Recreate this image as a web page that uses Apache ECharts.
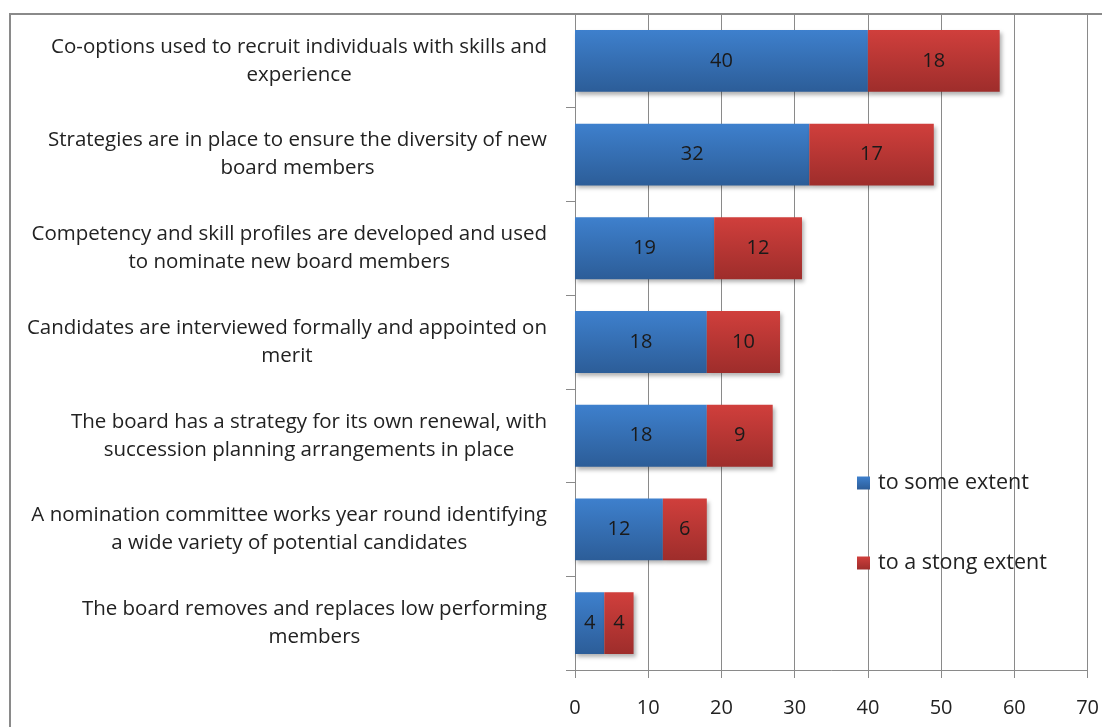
<!DOCTYPE html>
<html>
<head>
<meta charset="utf-8">
<script src="https://cdn.jsdelivr.net/npm/echarts@6/dist/echarts.min.js"></script>
<style>
  html, body { margin: 0; padding: 0; background: #fff; }
  #chart { width: 1102px; height: 727px; }
</style>
</head>
<body>
<div id="chart"></div>
<script>
var categories = [
    'Co-options used to recruit individuals with skills and\nexperience',
    'Strategies are in place to ensure the diversity of new\nboard members',
    'Competency and skill profiles are developed and used\nto nominate new board members',
    'Candidates are interviewed formally and appointed on\nmerit',
    'The board has a strategy for its own renewal, with\nsuccession planning arrangements in place',
    'A nomination committee works year round identifying\na wide variety of potential candidates',
    'The board removes and replaces low performing\nmembers'
];
var someExtent = [40, 32, 19, 18, 18, 12, 4];
var strongExtent = [18, 17, 12, 10, 9, 6, 4];
var xTicks = [0, 10, 20, 30, 40, 50, 60, 70];

var dom = document.getElementById("chart");
var myChart = echarts.init(dom);
var FONT = 'Open Sans';

function grad(top, bottom) {
    return new echarts.graphic.LinearGradient(0, 0, 0, 1, [
        { offset: 0, color: top },
        { offset: 1, color: bottom }
    ]);
}

var barLabel = {
    show: true,
    position: 'inside',
    color: '#1a1a1a',
    fontFamily: FONT,
    fontSize: 20
};

option = {
    animation: false,
    backgroundColor: '#fff',
    graphic: [{
        type: 'rect',
        shape: { x: 10, y: 14, width: 1200, height: 800 },
        style: { fill: null, stroke: '#8a8a8a', lineWidth: 2 },
        z: -1
    }],
    legend: {
        orient: 'vertical',
        left: 852,
        top: 466,
        itemWidth: 13,
        itemHeight: 13,
        itemGap: 56,
        icon: 'rect',
        textStyle: {
            fontFamily: FONT,
            fontSize: 21.5,
            color: '#222',
            lineHeight: 24,
            padding: [0, 0, 0, 3]
        },
        data: ['to some extent', 'to a stong extent']
    },
    grid: {
        left: 575,
        right: 14,
        top: 14,
        bottom: 57,
        containLabel: false
    },
    xAxis: {
        type: 'value',
        min: 0,
        max: 70,
        interval: 10,
        axisLine: { show: true, lineStyle: { color: '#8a8a8a', width: 1 } },
        axisTick: { show: true, length: 8, lineStyle: { color: '#8a8a8a' } },
        axisLabel: {
            margin: 28,
            color: '#222',
            fontFamily: FONT,
            fontSize: 20,
            formatter: function (v) { return xTicks.indexOf(v) >= 0 ? String(v) : ''; }
        },
        splitLine: { show: true, lineStyle: { color: '#8a8a8a', width: 1 } }
    },
    yAxis: {
        type: 'category',
        inverse: true,
        data: categories,
        axisLine: { show: true, lineStyle: { color: '#8a8a8a', width: 1 } },
        axisTick: { show: true, length: 9, lineStyle: { color: '#8a8a8a' } },
        axisLabel: {
            margin: 28,
            align: 'right',
            formatter: function (v) {
                return v.split('\n').map(function (l) { return '{c|' + l + '}'; }).join('\n');
            },
            rich: {
                c: {
                    align: 'center',
                    color: '#222',
                    fontFamily: FONT,
                    fontSize: 20.5,
                    lineHeight: 28
                }
            }
        }
    },
    series: [
        {
            name: 'to some extent',
            type: 'bar',
            stack: 'total',
            barCategoryGap: '34%',
            label: barLabel,
            itemStyle: {
                color: grad('#3e80cd', '#2c5d98'),
                shadowBlur: 4,
                shadowOffsetX: 2,
                shadowOffsetY: 3,
                shadowColor: 'rgba(0,0,0,0.3)'
            },
            data: someExtent
        },
        {
            name: 'to a stong extent',
            type: 'bar',
            stack: 'total',
            label: barLabel,
            itemStyle: {
                color: grad('#d03f3c', '#9e2d2b'),
                shadowBlur: 4,
                shadowOffsetX: 2,
                shadowOffsetY: 3,
                shadowColor: 'rgba(0,0,0,0.3)'
            },
            data: strongExtent
        }
    ]
};

if (option && typeof option === "object") {
    myChart.setOption(option, true);
}
window.addEventListener("resize", function () {
    myChart.resize();
});
</script>
</body>
</html>
